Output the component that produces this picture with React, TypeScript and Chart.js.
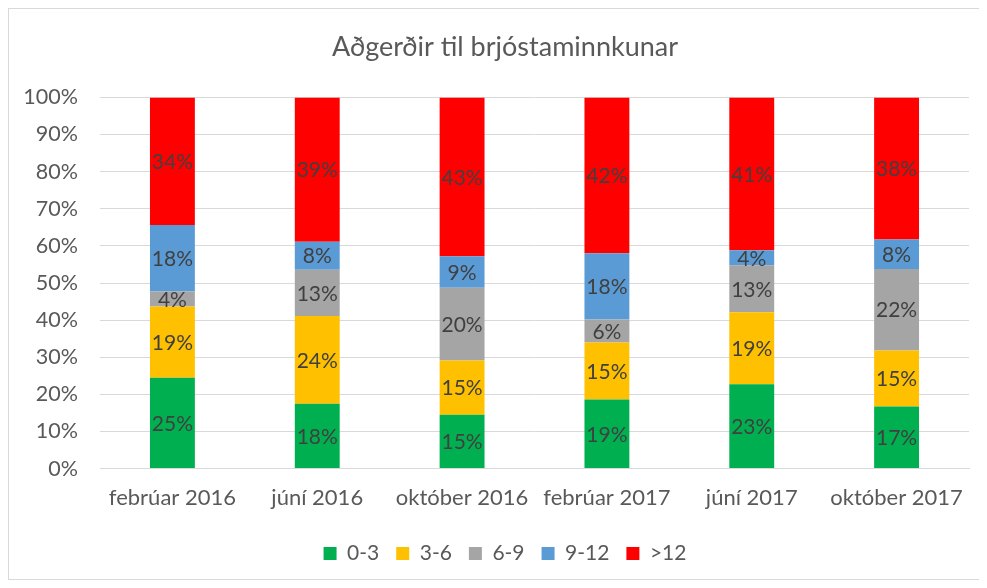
import React, { useEffect, useRef } from "react";
import { Chart, registerables } from "chart.js";

Chart.register(...registerables);

const categories = ["febrúar 2016", "júní 2016", "október 2016", "febrúar 2017", "júní 2017", "október 2017"];
const seriesNames = ["0-3", "3-6", "6-9", "9-12", ">12"];
const s0to3 = [24.5, 17.5, 14.5, 18.6, 22.7, 16.7];
const s3to6 = [19.2, 23.6, 14.6, 15.4, 19.4, 15.1];
const s6to9 = [4.0, 12.5, 19.6, 6.2, 12.7, 22.0];
const s9to12 = [17.9, 7.5, 8.5, 17.8, 4.0, 7.9];
const sOver12 = [34.4, 38.9, 42.8, 42.0, 41.2, 38.3];
const colors = ["#00B050", "#FFC000", "#A5A5A5", "#5B9BD5", "#FF0000"];
const titleText = "Aðgerðir til brjóstaminnkunar";

const FONT = "Lato";
const AXIS_COLOR = "#595959";

const dataLabelPlugin = {
  id: "segLabels",
  afterDatasetsDraw(chart: any) {
    const ctx = chart.ctx;
    ctx.save();
    ctx.font = `21px ${FONT}`;
    ctx.fillStyle = "#404040";
    ctx.textAlign = "center";
    ctx.textBaseline = "middle";
    chart.data.datasets.forEach((ds: any, di: number) => {
      const meta = chart.getDatasetMeta(di);
      meta.data.forEach((el: any, i: number) => {
        const { x, y, base } = el.getProps(["x", "y", "base"], true);
        const v = ds.data[i];
        ctx.fillText(Math.round(v) + "%", x, (y + base) / 2 + 1);
      });
    });
    ctx.restore();
  },
};

// widen the y-axis label clip region to the canvas edge (labels stay right-aligned)
const unclipYLabels = {
  id: "unclipYLabels",
  afterLayout(chart: any) {
    const y = chart.scales.y;
    if (y) y.left = 0;
  },
};

export default function App() {
  const ref = useRef<HTMLCanvasElement>(null);
  useEffect(() => {
    const seriesData = [s0to3, s3to6, s6to9, s9to12, sOver12];
    const chart = new Chart(ref.current!, {
      type: "bar",
      data: {
        labels: categories,
        datasets: seriesNames.map((n, i) => ({
          label: n,
          data: seriesData[i],
          backgroundColor: colors[i],
          borderWidth: 0,
          barPercentage: 0.31,
          categoryPercentage: 1,
        })),
      },
      options: {
        animation: false,
        responsive: false,
        maintainAspectRatio: false,
        layout: { padding: { left: 32, right: 13, top: 0, bottom: 5 } },
        plugins: {
          title: {
            display: true,
            text: titleText,
            color: AXIS_COLOR,
            font: { family: FONT, size: 27, weight: "normal" },
            padding: { top: 22, bottom: 34 },
          },
          legend: {
            position: "bottom",
            labels: {
              color: AXIS_COLOR,
              font: { family: FONT, size: 21 },
              boxWidth: 13,
              boxHeight: 13,
              padding: 17,
            },
          },
          tooltip: { enabled: false },
        },
        scales: {
          x: {
            stacked: true,
            grid: { display: false },
            border: { display: true, color: "#D9D9D9", width: 1 },
            ticks: { color: AXIS_COLOR, font: { family: FONT, size: 22 }, padding: 8, maxRotation: 0 },
            afterFit: (scale: any) => {
              scale.height += 7;
            },
          },
          y: {
            stacked: true,
            min: 0,
            max: 100,
            grid: { color: "#D9D9D9", drawTicks: false, lineWidth: 1 },
            border: { display: false },
            ticks: {
              stepSize: 10,
              color: AXIS_COLOR,
              font: { family: FONT, size: 21.5 },
              padding: 22,
              callback: (v: any) => v + "%",
            },
            afterFit: (scale: any) => {
              scale.width = 59;
            },
          },
        },
      },
      plugins: [dataLabelPlugin, unclipYLabels],
    });
    return () => chart.destroy();
  }, []);
  return (
    <div style={{ width: 975, height: 572, border: "1px solid #D9D9D9", boxSizing: "border-box", background: "#fff" }}>
      <canvas ref={ref} width={973} height={570} style={{ display: "block" }} />
    </div>
  );
}
